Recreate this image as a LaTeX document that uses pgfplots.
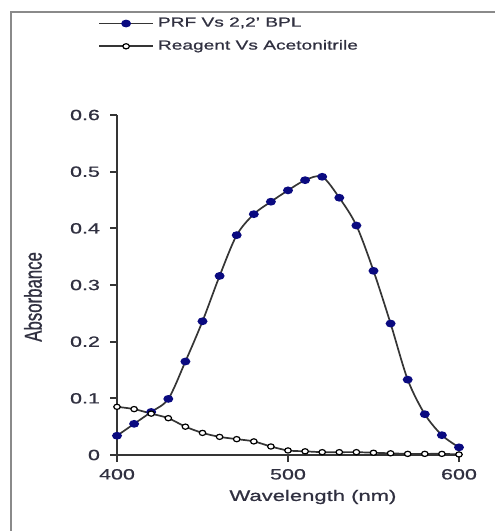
\documentclass[border=0pt]{standalone}
\usepackage{fontspec}
\setmainfont[FakeStretch=1.45,FakeBold=0.9]{Liberation Sans}
\newfontfamily\ylfont[FakeBold=0.9]{Liberation Sans}
\usepackage{graphicx}
\usepackage{pgfplots}
\pgfplotsset{compat=1.18}
\definecolor{linegray}{HTML}{353535}
\definecolor{navyblue}{HTML}{0A0A80}
\definecolor{framegray}{HTML}{8A8A8A}
\definecolor{txt}{HTML}{303040}
\begin{document}
\begin{tikzpicture}
\path[use as bounding box] (0,0) rectangle (247.5pt,265.5pt);
\draw[framegray, line width=1pt] (5.5pt,0) -- (5.5pt,259.5pt) -- (247.5pt,259.5pt);
\begin{axis}[
  at={(58.5pt,38pt)}, anchor=origin,
  scale only axis, width=171pt, height=170pt,
  xmin=400, xmax=600, ymin=0, ymax=0.6,
  axis x line*=bottom, axis y line*=left,
  axis line style={-, draw=linegray, line width=0.85pt},
  tick style={draw=linegray, line width=0.85pt},
  tick align=outside, major tick length=3.5pt,
  xtick={400,500,600}, ytick={0,0.1,0.2,0.3,0.4,0.5,0.6},
  /pgf/number format/assume math mode=true,
  /pgf/number format/fixed,
  yticklabel style={/pgf/number format/precision=1},
  ticklabel style={font=\fontsize{7.4}{9}\selectfont, text=txt},
  yticklabel style={xshift=-1.5pt},
  xlabel={Wavelength (nm)},
  xlabel style={at={(axis description cs:0.573,-0.1235)}, anchor=center, font=\fontsize{7.6}{9}\selectfont, text=txt},
  ylabel={\scalebox{1}[1.45]{\ylfont\fontsize{8.4}{10}\selectfont Absorbance}},
  ylabel style={at={(axis description cs:-0.2456,0.465)}, anchor=center, text=txt},
  clip=false,
  legend style={at={(axis description cs:-0.056,1.30)}, anchor=north west, draw=none, fill=none,
    font=\fontsize{6.6}{8}\selectfont, text=txt, row sep=1.2pt, inner sep=0pt},
  legend cell align=left,
  legend image code/.code={\draw[mark repeat=2,mark phase=2,#1] plot coordinates {(0pt,0pt) (13.5pt,0pt) (27pt,0pt)};},
]
\addplot[linegray, line width=0.85pt, smooth, mark=*, mark size=1.5pt,
  mark options={fill=navyblue, draw=navyblue, xscale=1.35}] coordinates {
(400,0.034) (410,0.055) (420,0.076) (430,0.099) (440,0.165) (450,0.236)
(460,0.316) (470,0.388) (480,0.425) (490,0.447) (500,0.467) (510,0.485)
(520,0.491) (530,0.454) (540,0.405) (550,0.325) (560,0.232) (570,0.133)
(580,0.072) (590,0.035) (600,0.0135)};
\addlegendentry{PRF Vs 2,2' BPL}
\addplot[linegray, line width=0.85pt, smooth, mark=*, mark size=1.3pt,
  mark options={fill=white, draw=black, line width=0.6pt, xscale=1.25}] coordinates {
(400,0.085) (410,0.081) (420,0.073) (430,0.065) (440,0.050) (450,0.039)
(460,0.032) (470,0.028) (480,0.024) (490,0.015) (500,0.008) (510,0.0065)
(520,0.005) (530,0.005) (540,0.005) (550,0.004) (560,0.003) (570,0.002)
(580,0.002) (590,0.002) (600,0.001)};
\addlegendentry{Reagent Vs Acetonitrile}
\end{axis}
\end{tikzpicture}
\end{document}
